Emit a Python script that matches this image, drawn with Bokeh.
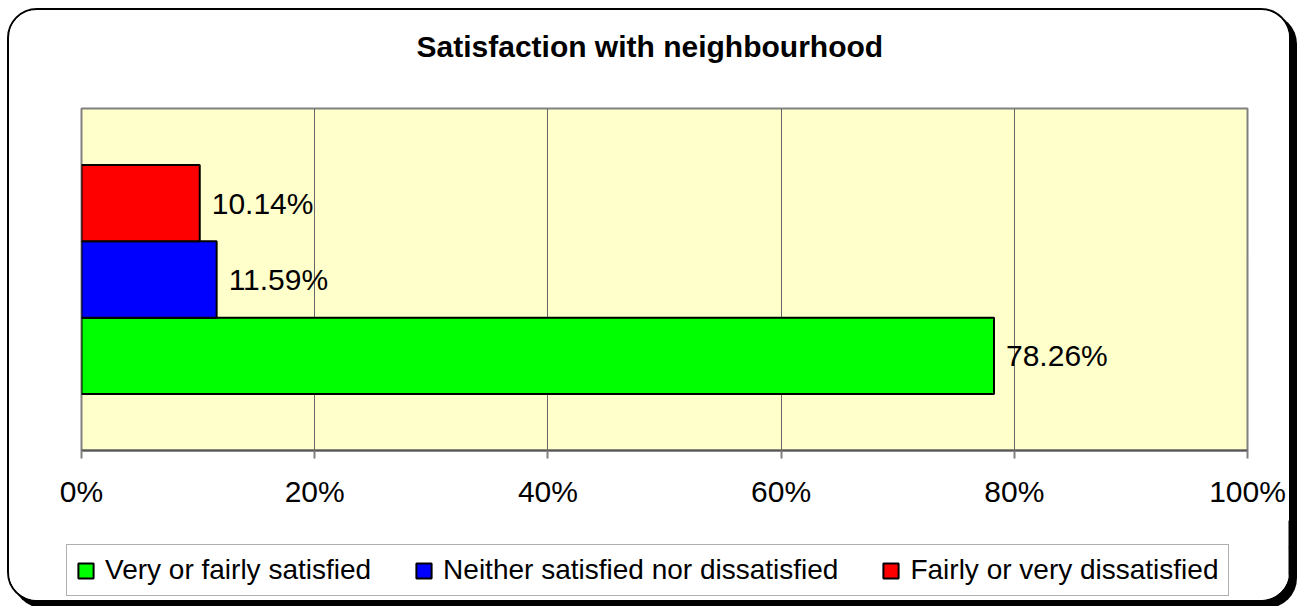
from bokeh.plotting import figure
from bokeh.layouts import column
from bokeh.models import (ColumnDataSource, Range1d, FactorRange, FixedTicker,
                          PrintfTickFormatter, LabelSet, Legend, LegendItem)
from bokeh.core.properties import value
from bokeh.embed import file_html
from bokeh.resources import INLINE

# ---- data ----
title_text = "Satisfaction with neighbourhood"
series = ["Very or fairly satisfied",
          "Neither satisfied nor dissatisfied",
          "Fairly or very dissatisfied"]
percent = [78.26, 11.59, 10.14]
x_ticks = [0, 20, 40, 60, 80, 100]

# ---- styles ----
bar_colors = ["#00FF00", "#0000FF", "#FF0000"]
FONT = "Liberation Sans"

src = ColumnDataSource(dict(
    cat=series,
    val=percent,
    color=bar_colors,
    lab=[f"{v:.2f}%" for v in percent],
))


def strip(height):
    f = figure(width=1280, height=height,
               x_range=Range1d(-10, -5), y_range=FactorRange(factors=series),
               x_axis_type=None, y_axis_type=None,
               output_backend="svg", toolbar_location=None,
               min_border_left=0, min_border_right=0,
               min_border_top=0, min_border_bottom=0)
    f.frame_align = False
    f.outline_line_color = None
    f.background_fill_color = "white"
    f.border_fill_color = "white"
    f.xgrid.visible = False
    f.ygrid.visible = False
    return f


# ---------------- title strip ----------------
t = strip(96)
t.title.text = title_text
t.title.align = "left"
t.title.offset = 407
t.title.text_font = FONT
t.title.text_font_size = "30px"
t.title.text_font_style = "bold"
t.title.text_color = "black"
t.title.standoff = 34

# ---------------- main chart ----------------
p = figure(
    width=1280, height=414,
    x_range=Range1d(0, 100),
    y_range=FactorRange(factors=series, range_padding=0.74,
                        range_padding_units="absolute"),
    output_backend="svg", toolbar_location=None,
    min_border_left=72, min_border_right=42,
    min_border_top=2, min_border_bottom=70,
)
p.frame_align = False
p.background_fill_color = "#FFFFCC"
p.border_fill_color = "white"
p.outline_line_color = "#808080"
p.outline_line_width = 2

r = p.hbar(y="cat", right="val", left=0, height=1.0, source=src,
           fill_color="color", line_color="black", line_width=2)

p.yaxis.visible = False
ax = p.below[0]
ax.ticker = FixedTicker(ticks=x_ticks)
ax.formatter = PrintfTickFormatter(format="%d%%")
ax.axis_line_color = "#555555"
ax.axis_line_width = 2
ax.major_tick_line_color = "#808080"
ax.major_tick_line_width = 2
ax.major_tick_out = 8
ax.major_tick_in = 0
ax.minor_tick_line_color = None
ax.major_label_text_font = FONT
ax.major_label_text_font_size = "30px"
ax.major_label_text_color = "black"
ax.major_label_standoff = 16

p.xgrid.grid_line_color = "#666666"
p.xgrid.grid_line_width = 1
p.ygrid.grid_line_color = None

labels = LabelSet(x="val", y="cat", text="lab", source=src,
                  x_offset=12, text_baseline="middle",
                  text_font=value(FONT), text_font_size="30px",
                  text_color="black")
p.add_layout(labels)

# ---------------- legend strip ----------------
q = strip(80)
rq = q.hbar(y="cat", right="val", left=0, height=1.0, source=src,
            fill_color="color", line_color="black", line_width=2)

items = [LegendItem(label=s, renderers=[rq], index=i) for i, s in enumerate(series)]
legend = Legend(items=items, orientation="horizontal", location=(57, 4),
                margin=0, padding=9, spacing=43,
                label_text_font=FONT, label_text_font_size="28px",
                label_text_color="black", label_standoff=10,
                glyph_width=19, glyph_height=19,
                border_line_color="#606060", border_line_width=1,
                background_fill_color="white", background_fill_alpha=1.0)
q.add_layout(legend)

layout = column(t, p, q, spacing=0)
layout.styles = {"border": "2px solid black", "border-radius": "30px",
                 "box-shadow": "6px 6px 0px 0px black", "overflow": "hidden",
                 "margin-left": "7px", "margin-top": "8px",
                 "background-color": "white"}

open("out.html", "w").write(file_html(layout, INLINE))
